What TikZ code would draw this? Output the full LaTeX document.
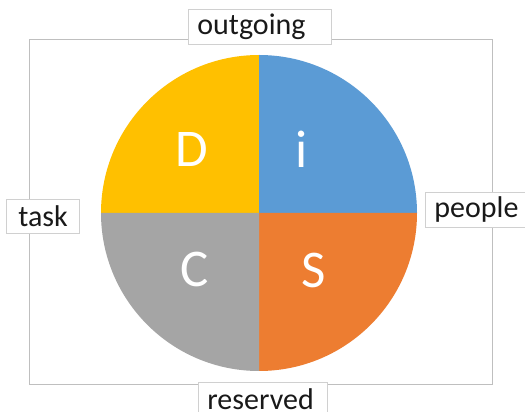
\documentclass[tikz,border=0pt]{standalone}
\usepackage{fontspec}
\setmainfont{Carlito}
\definecolor{discD}{HTML}{FFC000}
\definecolor{discI}{HTML}{5B9BD5}
\definecolor{discS}{HTML}{ED7D31}
\definecolor{discC}{HTML}{A5A5A5}
\definecolor{frameline}{HTML}{BFBFBF}
\definecolor{boxline}{HTML}{D0D0D0}
\begin{document}
\begin{tikzpicture}[x=1pt,y=1pt,
  lbl/.style={draw=boxline, line width=0.8pt, fill=white, anchor=north west,
    inner ysep=0pt, align=left, font=\fontsize{30}{32}\selectfont, text=black!90},
  big/.style={text=white, anchor=base, font=\fontsize{53}{56}\selectfont}]
\clip (0,0) rectangle (525,412);
\fill[white] (0,0) rectangle (525,412);
% frame
\draw[frameline, line width=1pt] (29,27) rectangle (492,372);
% pie
\coordinate (c) at (259,199);
\fill[discD] (c) -- ++(-158pt,0) arc[start angle=180, end angle=90, radius=158pt] -- cycle;
\fill[discI] (c) -- ++(0,158pt) arc[start angle=90, end angle=0, radius=158pt] -- cycle;
\fill[discS] (c) -- ++(158pt,0) arc[start angle=0, end angle=-90, radius=158pt] -- cycle;
\fill[discC] (c) -- ++(0,-158pt) arc[start angle=270, end angle=180, radius=158pt] -- cycle;
% letters
\node[big] (d) at (192,245) {D};
\node[big] (i) at (302,244) {i};
\node[big] (cc) at (194.5,125.5) {C};
\node[big] (s) at (314,124) {S};
% labels
\node[lbl, inner xsep=9pt, text width=125pt, minimum height=35pt] (out) at (188,403) {outgoing};
\node[lbl, inner xsep=12pt, text width=49pt, minimum height=34pt] (task) at (6,213) {task};
\node[lbl, inner xsep=9pt, text width=85pt, minimum height=35pt] (people) at (425,220) {people};
\node[lbl, inner xsep=9pt, text width=111pt, minimum height=40pt, anchor=north west] (res) at (198,30) {\raisebox{6pt}{reserved}};
\end{tikzpicture}
\end{document}
